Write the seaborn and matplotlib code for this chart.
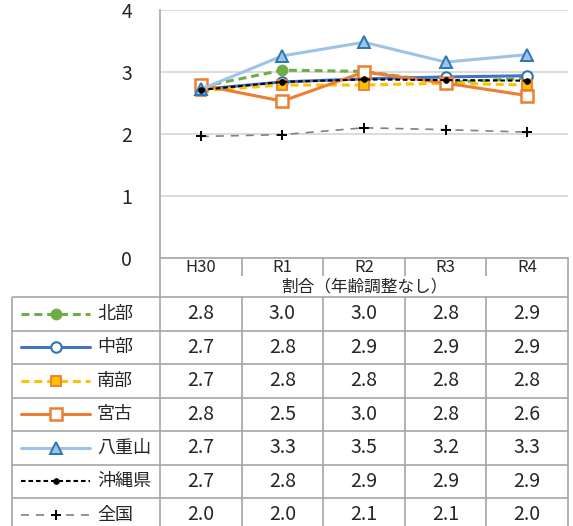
import matplotlib
matplotlib.use("Agg")
import matplotlib.pyplot as plt
import seaborn as sns
import pandas as pd
from matplotlib.lines import Line2D

# ---- data ----
cats = ["H30", "R1", "R2", "R3", "R4"]
names = ["北部", "中部", "南部", "宮古", "八重山", "沖縄県", "全国"]
hokubu = [2.76, 3.03, 3.01, 2.83, 2.90]
chubu = [2.72, 2.84, 2.89, 2.92, 2.94]
nanbu = [2.70, 2.79, 2.79, 2.82, 2.79]
miyako = [2.79, 2.53, 3.00, 2.82, 2.62]
yaeyama = [2.72, 3.26, 3.48, 3.16, 3.28]
okinawa = [2.71, 2.84, 2.88, 2.87, 2.86]
zenkoku = [1.96, 1.99, 2.10, 2.07, 2.03]
series = [hokubu, chubu, nanbu, miyako, yaeyama, okinawa, zenkoku]
yticks = [0, 1, 2, 3, 4]
xlabel = "割合（年齢調整なし）"

# ---- styles ----
styles = [
    dict(color="#70AD47", linestyle=(0, (2.6, 1.6)), linewidth=2.2, marker="o", markersize=7.5,
         markerfacecolor="#70AD47", markeredgecolor="#70AD47", markeredgewidth=1.0),
    dict(color="#4472C4", linestyle="-", linewidth=2.2, marker="o", markersize=7.5,
         markerfacecolor="white", markeredgecolor="#2E75B6", markeredgewidth=1.5),
    dict(color="#FFC000", linestyle=(0, (2.6, 1.6)), linewidth=2.2, marker="s", markersize=7.5,
         markerfacecolor="#FFC000", markeredgecolor="#ED7D31", markeredgewidth=1.3),
    dict(color="#ED7D31", linestyle="-", linewidth=2.2, marker="s", markersize=8.5,
         markerfacecolor="white", markeredgecolor="#ED7D31", markeredgewidth=1.8),
    dict(color="#9DC3E6", linestyle="-", linewidth=2.2, marker="^", markersize=8.5,
         markerfacecolor="#9DC3E6", markeredgecolor="#2E75B6", markeredgewidth=1.4),
    dict(color="black", linestyle=(0, (2.2, 1.4)), linewidth=1.5, marker="o", markersize=4.2,
         markerfacecolor="black", markeredgecolor="black", markeredgewidth=0.5),
    dict(color="#808080", linestyle=(0, (4.8, 4.2)), linewidth=1.2, marker="+", markersize=6.5,
         markerfacecolor="black", markeredgecolor="black", markeredgewidth=1.4),
]

sns.set_style("white")
plt.rcParams["font.family"] = ["Noto Sans CJK JP", "DejaVu Sans"]
TXT = "#262626"
GRID = "#D9D9D9"
BORDER = "#A6A6A6"

W, H = 573, 526
fig = plt.figure(figsize=(W / 100, H / 100), dpi=100)
fig.patch.set_facecolor("white")

# main plot area (pixel geometry)
L, R, T, B = 160, 568, 10, 258
ax = fig.add_axes([L / W, 1 - B / H, (R - L) / W, (B - T) / H])

for vals, st in zip(series, styles):
    df = pd.DataFrame({"x": cats, "y": vals})
    sns.lineplot(data=df, x="x", y="y", ax=ax, sort=False, legend=False, **st)

ax.set_xlim(-0.5, len(cats) - 0.5)
ax.set_ylim(0, 4)
ax.set_yticks(yticks)
ax.set_yticklabels([str(t) for t in yticks], fontsize=14, color=TXT)
ax.tick_params(axis="y", length=0, pad=20)
ax.set_xticks(range(len(cats)))
ax.set_xticklabels(cats, fontsize=12, color=TXT)
ax.tick_params(axis="x", length=0, pad=1)
ax.set_xlabel("")
ax.set_ylabel("")
ax.grid(axis="y", color=GRID, linewidth=1.3)
ax.grid(axis="x", visible=False)
ax.set_axisbelow(True)
for s in ["top", "right"]:
    ax.spines[s].set_visible(False)
ax.spines["left"].set_color(BORDER)
ax.spines["left"].set_linewidth(1.2)
ax.spines["bottom"].set_color(BORDER)
ax.spines["bottom"].set_linewidth(1.2)

# table overlay in pixel coordinates
tb = fig.add_axes([0, 0, 1, 1], facecolor="none")
tb.set_xlim(0, W)
tb.set_ylim(H, 0)
tb.axis("off")

colw = (R - L) / len(cats)
xb = [L + colw * i for i in range(len(cats) + 1)]
tab_top = 297
rowh = 33.5
tab_left = 12
lk = dict(color=BORDER, linewidth=1.2, solid_capstyle="butt")

# header
for x in xb[1:-1]:
    tb.plot([x, x], [B, 276], **lk)
tb.plot([L, L], [B, H], **lk)
tb.plot([R, R], [B, H], **lk)
tb.text((L + R) / 2, 287, xlabel, ha="center", va="center", fontsize=12, color=TXT)

# table grid
tb.plot([tab_left, R], [tab_top, tab_top], **lk)
for i in range(1, len(names)):
    y = tab_top + rowh * i
    tb.plot([tab_left, R], [y, y], **lk)
tb.plot([tab_left, tab_left], [tab_top, H], **lk)
for x in xb[1:-1]:
    tb.plot([x, x], [tab_top, H], **lk)

# rows
for i, (nm, vals, st) in enumerate(zip(names, series, styles)):
    yc = tab_top + rowh * (i + 0.5)
    ln = Line2D([21, 56, 90], [yc, yc, yc], markevery=[1], **st)
    tb.add_line(ln)
    tb.text(97, yc, nm, ha="left", va="center", fontsize=13, color=TXT)
    for j, v in enumerate(vals):
        tb.text(L + colw * (j + 0.5), yc, f"{v:.1f}", ha="center", va="center",
                fontsize=14, color=TXT)

fig.savefig("out.png", dpi=100, facecolor="white")
